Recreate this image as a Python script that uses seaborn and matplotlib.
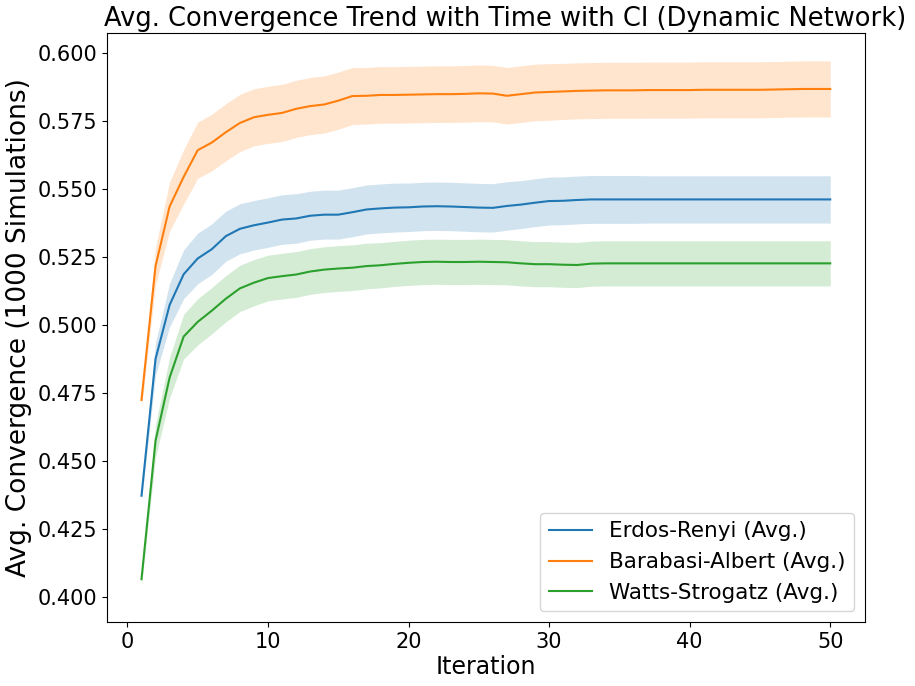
import numpy as np
import pandas as pd
import matplotlib
matplotlib.use("Agg")
import matplotlib.pyplot as plt
import seaborn as sns

# iterations 1..50
iterations = list(range(1, 51))

# average convergence per network model
er_mean = [0.4373, 0.4876, 0.5074, 0.5187, 0.5245, 0.5279, 0.5327, 0.5354, 0.5367, 0.5377,
           0.5388, 0.5392, 0.5402, 0.5406, 0.5406, 0.5415, 0.5425, 0.5429, 0.5432, 0.5433,
           0.5436, 0.5437, 0.5436, 0.5434, 0.5432, 0.5431, 0.5438, 0.5443, 0.5450, 0.5456,
           0.5457, 0.5460, 0.5462, 0.5462, 0.5462, 0.5462, 0.5462, 0.5462, 0.5462, 0.5462,
           0.5462, 0.5462, 0.5462, 0.5462, 0.5462, 0.5462, 0.5462, 0.5462, 0.5462, 0.5462]
ba_mean = [0.4725, 0.5217, 0.5436, 0.5545, 0.5643, 0.5671, 0.5709, 0.5743, 0.5764, 0.5773,
           0.5780, 0.5795, 0.5805, 0.5811, 0.5825, 0.5842, 0.5843, 0.5846, 0.5846, 0.5847,
           0.5848, 0.5849, 0.5849, 0.5850, 0.5852, 0.5851, 0.5843, 0.5849, 0.5855, 0.5857,
           0.5859, 0.5861, 0.5862, 0.5863, 0.5863, 0.5863, 0.5864, 0.5864, 0.5864, 0.5864,
           0.5865, 0.5865, 0.5865, 0.5865, 0.5865, 0.5866, 0.5867, 0.5868, 0.5868, 0.5868]
ws_mean = [0.4066, 0.4575, 0.4807, 0.4958, 0.5012, 0.5053, 0.5097, 0.5135, 0.5156, 0.5173,
           0.5180, 0.5186, 0.5197, 0.5204, 0.5208, 0.5211, 0.5217, 0.5220, 0.5225, 0.5229,
           0.5232, 0.5233, 0.5232, 0.5232, 0.5233, 0.5232, 0.5231, 0.5227, 0.5224, 0.5224,
           0.5222, 0.5221, 0.5226, 0.5227, 0.5227, 0.5227, 0.5227, 0.5227, 0.5227, 0.5227,
           0.5227, 0.5227, 0.5227, 0.5227, 0.5227, 0.5227, 0.5227, 0.5227, 0.5227, 0.5227]

# half width of the confidence band
er_ci = [0.0020, 0.0060, 0.0080, 0.0090, 0.0093, 0.0093, 0.0092, 0.0092, 0.0091, 0.0091,
         0.0091, 0.0091, 0.0090, 0.0090, 0.0090, 0.0090, 0.0090, 0.0090, 0.0090, 0.0089,
         0.0089, 0.0089, 0.0089, 0.0089, 0.0089, 0.0089, 0.0089, 0.0088, 0.0088, 0.0088,
         0.0088, 0.0088, 0.0088, 0.0088, 0.0088, 0.0088, 0.0087, 0.0087, 0.0087, 0.0087,
         0.0087, 0.0087, 0.0087, 0.0087, 0.0087, 0.0087, 0.0087, 0.0087, 0.0087, 0.0087]
ba_ci = [0.0030, 0.0070, 0.0090, 0.0100, 0.0103, 0.0104, 0.0105, 0.0105, 0.0105, 0.0105,
         0.0105, 0.0105, 0.0105, 0.0105, 0.0105, 0.0105, 0.0104, 0.0104, 0.0104, 0.0104,
         0.0104, 0.0104, 0.0104, 0.0104, 0.0104, 0.0104, 0.0104, 0.0104, 0.0104, 0.0104,
         0.0103, 0.0103, 0.0103, 0.0103, 0.0103, 0.0103, 0.0103, 0.0103, 0.0103, 0.0103,
         0.0103, 0.0103, 0.0103, 0.0103, 0.0103, 0.0103, 0.0103, 0.0103, 0.0103, 0.0103]
ws_ci = [0.0025, 0.0060, 0.0075, 0.0082, 0.0085, 0.0085, 0.0085, 0.0085, 0.0085, 0.0084,
         0.0084, 0.0084, 0.0084, 0.0084, 0.0084, 0.0084, 0.0084, 0.0083, 0.0083, 0.0083,
         0.0083, 0.0083, 0.0083, 0.0083, 0.0083, 0.0083, 0.0083, 0.0083, 0.0083, 0.0083,
         0.0083, 0.0083, 0.0083, 0.0083, 0.0083, 0.0083, 0.0083, 0.0083, 0.0083, 0.0083,
         0.0083, 0.0083, 0.0083, 0.0083, 0.0083, 0.0083, 0.0083, 0.0083, 0.0083, 0.0083]

labels = ["Erdos-Renyi (Avg.)", "Barabasi-Albert (Avg.)", "Watts-Strogatz (Avg.)"]
colors = sns.color_palette("tab10")[:3]

series = [(labels[0], er_mean, er_ci), (labels[1], ba_mean, ba_ci), (labels[2], ws_mean, ws_ci)]

df = pd.concat([pd.DataFrame({"Iteration": iterations, "value": m, "ci": c, "model": name})
                for name, m, c in series], ignore_index=True)

fig = plt.figure(figsize=(9.15, 6.86), dpi=100)
ax = fig.add_axes([0.117, 0.093, 0.828, 0.859])

sns.lineplot(data=df, x="Iteration", y="value", hue="model", palette=colors, ax=ax)

# confidence bands
for (name, m, c), col in zip(series, colors):
    m = np.array(m)
    c = np.array(c)
    ax.fill_between(iterations, m - c, m + c, color=col, alpha=0.2, linewidth=0)

ax.set_ylim(0.3908, 0.6074)
ax.set_title("Avg. Convergence Trend with Time with CI (Dynamic Network)", fontsize=18.5, pad=5, x=0.525)
ax.set_xlabel("Iteration", fontsize=17, labelpad=2)
ax.set_ylabel("Avg. Convergence (1000 Simulations)", fontsize=19, labelpad=4)
ax.tick_params(labelsize=15)
ax.legend(loc="lower right", fontsize=15.5, title=None)

fig.savefig("out.png", dpi=100)
